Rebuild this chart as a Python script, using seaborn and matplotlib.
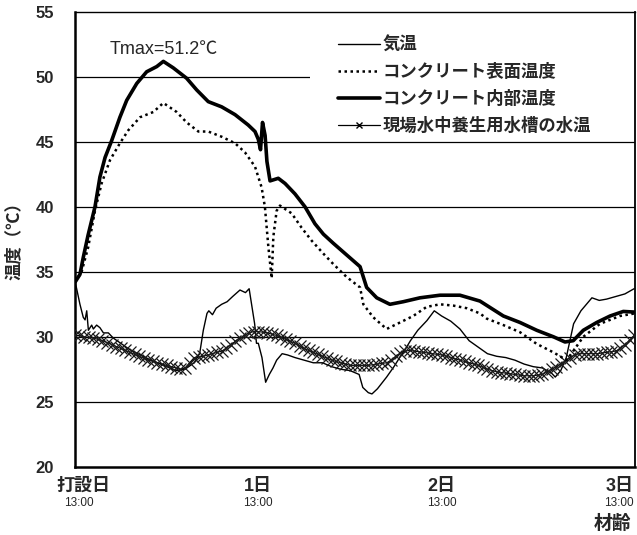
import matplotlib
matplotlib.use("Agg")
import matplotlib.pyplot as plt
from matplotlib.patches import Rectangle
from matplotlib.lines import Line2D
import seaborn as sns
import pandas as pd

# ---- data (age in days from placement at 13:00, temperature in deg C) ----
inner_day = [0, 0.027, 0.045, 0.071, 0.109, 0.136, 0.164, 0.200, 0.245, 0.282, 0.337,
             0.391, 0.446, 0.482, 0.536, 0.609, 0.664, 0.727, 0.800, 0.873, 0.945,
             0.982, 1.000, 1.012, 1.023, 1.037, 1.047, 1.064, 1.109, 1.146, 1.200,
             1.255, 1.309, 1.355, 1.409, 1.482, 1.555, 1.591, 1.646, 1.718, 1.791,
             1.882, 1.991, 2.100, 2.209, 2.337, 2.428, 2.519, 2.610, 2.673, 2.718,
             2.773, 2.846, 2.919, 2.991, 3.055]
inner_temp = [34.2, 34.8, 36.1, 37.8, 40.0, 42.3, 43.8, 45.1, 46.9, 48.2, 49.5,
              50.4, 50.8, 51.2, 50.7, 49.9, 49.0, 48.1, 47.7, 47.1, 46.3,
              45.8, 45.2, 44.4, 46.5, 45.5, 43.5, 42.0, 42.2, 41.8, 41.0,
              40.0, 38.7, 37.9, 37.2, 36.3, 35.4, 33.8, 33.0, 32.5, 32.7,
              33.0, 33.2, 33.2, 32.75, 31.6, 31.1, 30.5, 30.0, 29.6, 29.7,
              30.5, 31.1, 31.6, 31.95, 31.9]

surface_day = [0, 0.036, 0.072, 0.109, 0.145, 0.191, 0.245, 0.291, 0.355, 0.427,
               0.482, 0.555, 0.609, 0.673, 0.727, 0.800, 0.873, 0.927, 0.982, 1.018,
               1.036, 1.055, 1.073, 1.082, 1.100, 1.118, 1.182, 1.236, 1.291, 1.355,
               1.409, 1.482, 1.555, 1.573, 1.627, 1.700, 1.773, 1.845, 1.918, 1.991,
               2.064, 2.137, 2.209, 2.246, 2.337, 2.428, 2.519, 2.610, 2.682, 2.718,
               2.773, 2.864, 2.973, 3.055]
surface_temp = [34.2, 35.0, 36.9, 39.7, 41.8, 43.6, 44.9, 45.9, 46.9, 47.3,
                48.0, 47.3, 46.5, 45.8, 45.8, 45.4, 44.9, 44.2, 43.1, 41.5,
                40.0, 36.9, 34.5, 37.7, 39.7, 40.1, 39.5, 38.4, 37.4, 36.4,
                35.6, 34.6, 33.8, 32.5, 31.5, 30.6, 31.1, 31.6, 32.3, 32.5,
                32.4, 32.2, 31.8, 31.4, 30.9, 30.35, 29.45, 28.8, 28.2, 28.9,
                30.0, 31.0, 31.6, 31.8]

air_day = [0, 0.027, 0.045, 0.055, 0.064, 0.073, 0.091, 0.100, 0.118, 0.136,
           0.155, 0.182, 0.209, 0.30, 0.40, 0.50, 0.55, 0.60, 0.65, 0.68,
           0.70, 0.72, 0.73, 0.75, 0.77, 0.80, 0.83, 0.86, 0.90, 0.93,
           0.95, 0.96, 0.98, 0.99, 1.00, 1.02, 1.04, 1.06, 1.08, 1.10,
           1.13, 1.16, 1.20, 1.25, 1.30, 1.35, 1.40, 1.45, 1.50, 1.55,
           1.57, 1.60, 1.62, 1.65, 1.70, 1.74, 1.78, 1.80, 1.83, 1.87,
           1.92, 1.96, 2.00, 2.05, 2.10, 2.15, 2.20, 2.25, 2.30, 2.35,
           2.40, 2.45, 2.50, 2.55, 2.60, 2.62, 2.65, 2.68, 2.70, 2.72,
           2.76, 2.79, 2.82, 2.86, 2.90, 2.95, 3.00, 3.05]
air_temp = [34.3, 32.5, 31.5, 31.3, 32.0, 30.5, 30.9, 30.6, 30.9, 30.7,
            30.3, 30.3, 29.9, 29.0, 28.3, 27.7, 27.4, 27.5, 28.0, 28.7,
            30.5, 31.8, 32.0, 31.7, 32.2, 32.5, 32.7, 33.1, 33.6, 33.4,
            33.7, 32.8, 31.0, 29.5, 29.5, 28.4, 26.5, 27.1, 27.6, 28.2,
            28.7, 28.6, 28.4, 28.2, 28.0, 28.0, 27.7, 27.5, 27.4, 27.1,
            26.1, 25.7, 25.6, 26.0, 26.9, 27.7, 28.6, 29.0, 29.7, 30.5,
            31.25, 32.0, 31.6, 31.2, 30.6, 29.7, 29.2, 28.7, 28.5, 28.4,
            28.2, 27.9, 27.7, 27.6, 27.2, 26.9, 27.4, 28.4, 29.7, 31.0,
            32.0, 32.5, 33.0, 32.8, 32.9, 33.1, 33.3, 33.7]

# water tank readings every 0.025 day
water_day = [round(0.025 * i, 3) for i in range(123)]
water_temp = [30.1, 30.1, 30.0, 29.95, 29.9, 29.8, 29.7, 29.55, 29.4, 29.25,
              29.1, 28.95, 28.8, 28.65, 28.5, 28.35, 28.2, 28.1, 28.0, 27.9,
              27.8, 27.7, 27.6, 27.5, 27.6, 28.0, 28.4, 28.45, 28.5, 28.6,
              28.7, 28.8, 28.9, 29.1, 29.4, 29.65, 29.9, 30.1, 30.3, 30.4,
              30.4, 30.35, 30.3, 30.2, 30.1, 29.95, 29.8, 29.65, 29.5, 29.3,
              29.1, 28.95, 28.8, 28.65, 28.5, 28.35, 28.2, 28.1, 28.0, 27.9,
              27.8, 27.8, 27.8, 27.8, 27.8, 27.85, 27.9, 27.95, 28.0, 28.2,
              28.5, 28.75, 28.9, 28.95, 28.9, 28.85, 28.8, 28.75, 28.7, 28.65,
              28.6, 28.5, 28.4, 28.3, 28.2, 28.1, 28.0, 27.9, 27.8, 27.65,
              27.5, 27.4, 27.3, 27.25, 27.2, 27.15, 27.1, 27.05, 27.0, 27.0,
              27.0, 27.05, 27.1, 27.3, 27.5, 27.7, 27.9, 28.15, 28.4, 28.6,
              28.7, 28.7, 28.7, 28.7, 28.7, 28.75, 28.8, 28.85, 28.9, 29.1,
              29.4, 29.75, 30.1]

series_labels = ["気温", "コンクリート表面温度", "コンクリート内部温度", "現場水中養生用水槽の水温"]
tick_days = [0, 1, 2, 3]
tick_names = ["打設日", "1日", "2日", "3日"]
tick_time = "13:00"
y_ticks = [20, 25, 30, 35, 40, 45, 50, 55]
t_max = 51.2

# ---- styling ----
sns.set_theme(style="white")
jp = ["Liberation Sans", "Noto Sans CJK JP", "DejaVu Sans"]
plt.rcParams["font.family"] = jp

fig = plt.figure(figsize=(6.37, 5.35), dpi=100)
ax = fig.add_axes([75 / 637, 1 - 466.7 / 535, 560 / 637, 454.7 / 535])
ax.set_facecolor("white")

# horizontal grid lines
for yv in y_ticks[1:-1]:
    ax.axhline(yv, color="black", lw=0.9, zorder=1)
# blank area behind the legend
ax.add_patch(Rectangle((0.42, 47.5), 0.58, 7.5, transform=ax.get_yaxis_transform(),
                       facecolor="white", edgecolor="none", zorder=1.5))

df_air = pd.DataFrame({"day": air_day, "temp": air_temp})
df_surf = pd.DataFrame({"day": surface_day, "temp": surface_temp})
df_in = pd.DataFrame({"day": inner_day, "temp": inner_temp})
df_wat = pd.DataFrame({"day": water_day, "temp": water_temp})

sns.lineplot(data=df_air, x="day", y="temp", ax=ax, color="black", lw=1.0,
             zorder=3, estimator=None, sort=False)
sns.lineplot(data=df_wat, x="day", y="temp", ax=ax, color="black", lw=0.8,
             marker="x", markersize=9, markeredgewidth=0.9,
             markeredgecolor="#1a1a1a", markerfacecolor="black", zorder=3.5,
             estimator=None, sort=False)
sns.lineplot(data=df_surf, x="day", y="temp", ax=ax, color="black", lw=1.8,
             linestyle=(0, (1, 1.4)), zorder=4, estimator=None, sort=False)
sns.lineplot(data=df_in, x="day", y="temp", ax=ax, color="black", lw=2.6,
             zorder=5, estimator=None, sort=False)

ax.set_xlim(0, 3.055)
ax.set_ylim(20, 55)
ax.set_yticks(y_ticks)
ax.set_yticklabels([str(v) for v in y_ticks], fontsize=12, fontweight="bold",
                   family=jp)
ax.set_xticks(tick_days)
ax.set_xticklabels([])
ax.tick_params(axis="x", direction="in", length=5, width=1, color="black")
ax.tick_params(axis="y", direction="in", length=0, pad=15)
ax.set_xlabel("")
ax.set_ylabel("")

for side, w in [("left", 1.8), ("bottom", 1.8), ("top", 1.0), ("right", 1.3)]:
    ax.spines[side].set_visible(True)
    ax.spines[side].set_color("black")
    ax.spines[side].set_linewidth(w)

# two-line tick labels under the x axis
xt = ax.get_xaxis_transform()
label_shift = {0: 0.045, 1: 0.0, 2: 0.0, 3: -0.03}
for d, name in zip(tick_days, tick_names):
    ax.text(d + label_shift[d], -0.043, name, transform=xt, ha="center",
            va="center", fontsize=13, fontweight="bold", family=jp)
    ax.text(d + (0.02 if d == 0 else (-0.033 if d == 3 else 0)), -0.080,
            tick_time, transform=xt, ha="center", va="center",
            fontsize=8.5, family=jp)

fig.text(612 / 637, 1 - 524 / 535, "材齢", ha="center", va="center",
         fontsize=13.5, fontweight="bold", family=jp)
ax.text(-0.110, 0.507, "温度（℃）", transform=ax.transAxes, rotation=90,
        ha="center", va="center", fontsize=12.5, fontweight="bold", family=jp)

ax.text(0.486, 52.1, f"Tmax={t_max}℃", ha="center", va="center", fontsize=13,
        family=jp)

handles = [
    Line2D([], [], color="black", lw=1.0),
    Line2D([], [], color="black", lw=1.8, linestyle=(0, (1, 1.4))),
    Line2D([], [], color="black", lw=2.6),
    Line2D([], [], color="black", lw=0.9, marker="x", markersize=5,
           markeredgewidth=1.0),
]
leg = ax.legend(handles, series_labels, loc="upper left",
                bbox_to_anchor=(0.4696, 0.948), frameon=False, borderaxespad=0,
                borderpad=0, handlelength=2.4, handletextpad=0.15,
                labelspacing=0.58, numpoints=1,
                prop={"family": jp, "size": 12.5, "weight": "bold"})
leg.set_zorder(6)

fig.savefig("out.png", dpi=100, facecolor="white")
